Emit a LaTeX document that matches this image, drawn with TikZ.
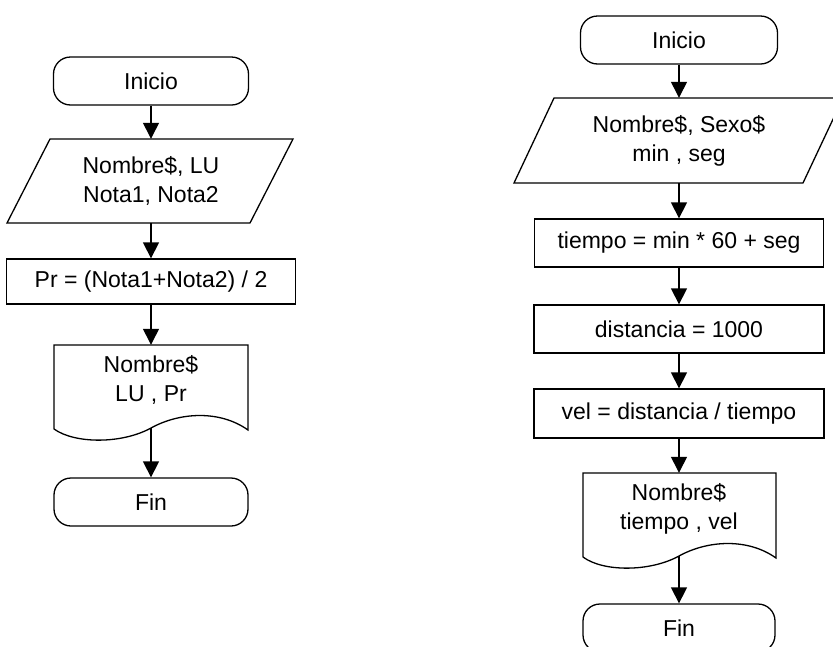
\documentclass[tikz,border=0pt]{standalone}
\usepackage{fontspec}
\setmainfont{Liberation Sans}
\usetikzlibrary{arrows.meta}
\begin{document}
\begin{tikzpicture}[x=1pt,y=-1pt,
  every node/.style={font=\fontsize{23}{29}\selectfont, align=center, inner sep=0pt},
  lw/.style={line width=1.3pt},
  term/.style={draw, lw, rounded corners=17pt, minimum height=48pt},
  proc/.style={draw, lw},
  arr/.style={lw, -{Triangle[width=16pt,length=16pt]}}]
\useasboundingbox (0,0) rectangle (833,646);
\clip (0,0) rectangle (833,646);

% ---------- left flowchart ----------
\node[term, minimum width=195pt] (ini1) at (151,81) {Inicio};
\draw[lw] (50,139) -- (293,139) -- (250,223) -- (7,223) -- cycle;
\node[minimum width=200pt, minimum height=84pt] (in1) at (151,181) {Nombre\$, LU\\Nota1, Nota2};
\node[proc, minimum width=289pt, minimum height=45pt] (pr) at (151,281.5) {Pr = (Nota1+Nota2) / 2};
\draw[lw] (54,429) -- (54,345) -- (248,345) -- (248,430)
  .. controls (220,410) and (180,412) .. (151,428)
  .. controls (122,444) and (75,444) .. (54,429);
\node[minimum width=194pt, minimum height=83pt] (doc1) at (151,386.5) {};
\node (doc1t) at (151,380) {Nombre\$\\LU , Pr};
\node[term, minimum width=194pt] (fin1) at (151,502) {Fin};

\draw[arr] (ini1.south) -- (in1.north);
\draw[arr] (in1.south) -- (pr.north);
\draw[arr] (pr.south) -- (doc1.north);
\draw[arr] (doc1.south) -- (fin1.north);

% ---------- right flowchart ----------
\node[term, minimum width=197pt] (ini2) at (679,40) {Inicio};
\draw[lw] (554,98) -- (843,98) -- (803,183) -- (514,183) -- cycle;
\node[minimum width=200pt, minimum height=85pt] (in2) at (679,140.5) {Nombre\$, Sexo\$\\min , seg};
\node[proc, minimum width=289pt, minimum height=48pt] (tiempo) at (679,243) {tiempo = min * 60 + seg};
\node[proc, minimum width=290pt, minimum height=48pt] (dist) at (679,329) {distancia = 1000};
\node[proc, minimum width=290pt, minimum height=49pt] (vel) at (679,413.5) {vel = distancia / tiempo};
\draw[lw] (583,557) -- (583,473) -- (776,473) -- (776,558)
  .. controls (748,538) and (708,540) .. (679,556)
  .. controls (650,572) and (603,572) .. (583,557);
\node[minimum width=193pt, minimum height=83pt] (doc2) at (679,514.5) {};
\node (doc2t) at (679,509) {Nombre\$\\tiempo , vel};
\node[term, minimum width=192pt] (fin2) at (679,628) {Fin};

\draw[arr] (ini2.south) -- (in2.north);
\draw[arr] (in2.south) -- (tiempo.north);
\draw[arr] (tiempo.south) -- (dist.north);
\draw[arr] (dist.south) -- (vel.north);
\draw[arr] (vel.south) -- (doc2.north);
\draw[arr] (doc2.south) -- (fin2.north);
\end{tikzpicture}
\end{document}
